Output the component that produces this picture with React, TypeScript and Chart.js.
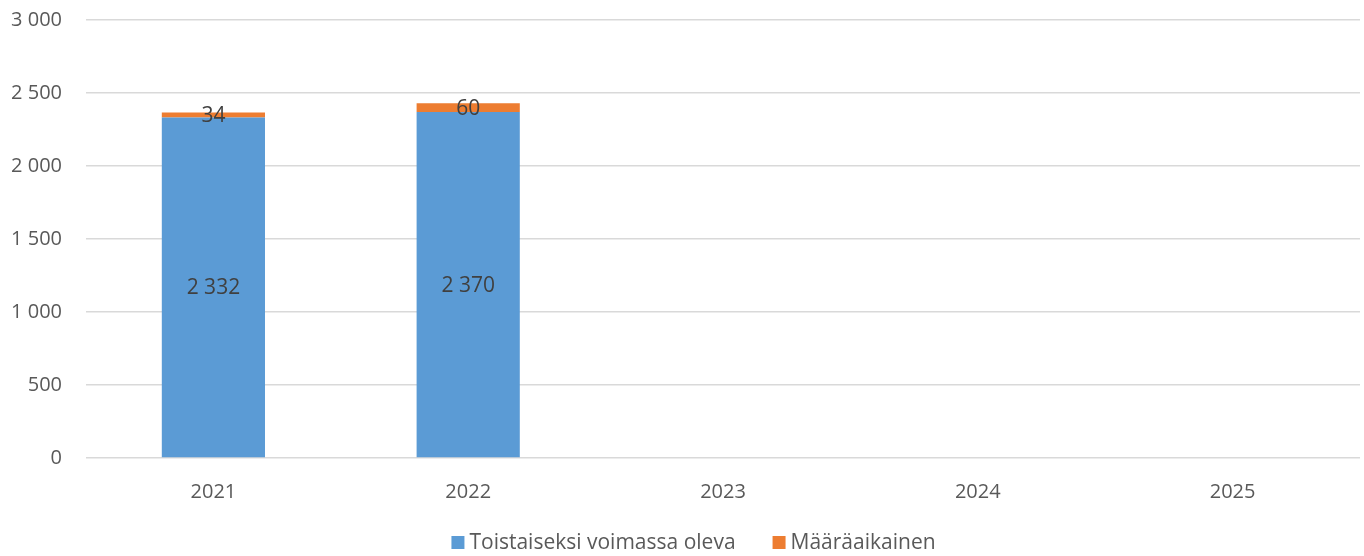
import React, { useEffect, useRef } from "react";
import { Chart, registerables } from "chart.js";

Chart.register(...registerables);

const categories = ["2021", "2022", "2023", "2024", "2025"];
const permanentValues = [2332, 2370, null, null, null];
const fixedTermValues = [34, 60, null, null, null];
const seriesNames = ["Toistaiseksi voimassa oleva", "Määräaikainen"];
const seriesColors = ["#5b9bd5", "#ed7d31"];
const yTicks = [0, 500, 1000, 1500, 2000, 2500, 3000];

const FONT = "'Open Sans', 'Liberation Sans', sans-serif";

const fmt = (v: number) => {
  const s = Math.round(v).toString();
  return s.replace(/\B(?=(\d{3})+(?!\d))/g, " ");
};

const labelPlugin = {
  id: "segLabels",
  afterDatasetsDraw(chart: any) {
    const ctx = chart.ctx;
    ctx.save();
    ctx.font = `21px ${FONT}`;
    ctx.fillStyle = "#404040";
    ctx.textAlign = "center";
    ctx.textBaseline = "middle";
    chart.data.datasets.forEach((ds: any, di: number) => {
      const meta = chart.getDatasetMeta(di);
      meta.data.forEach((el: any, i: number) => {
        const v = ds.data[i];
        if (v == null) return;
        const { x, y, base } = el.getProps(["x", "y", "base"], true);
        ctx.fillText(fmt(v), x, (y + base) / 2 + 1);
      });
    });
    ctx.restore();
  },
};

const legendPlugin = {
  id: "customLegend",
  afterDraw(chart: any) {
    const ctx = chart.ctx;
    ctx.save();
    ctx.font = `21px ${FONT}`;
    ctx.textBaseline = "middle";
    ctx.textAlign = "left";
    const box = 13;
    const gap = 5;
    const itemGap = 37;
    const items = chart.data.datasets.map((ds: any, i: number) => ({
      text: ds.label,
      color: seriesColors[i],
      w: ctx.measureText(ds.label).width,
    }));
    const total =
      items.reduce((s: number, it: any) => s + box + gap + it.w, 0) + itemGap * (items.length - 1);
    const cy = 542.5;
    let x = 693.5 - total / 2;
    items.forEach((it: any) => {
      ctx.fillStyle = it.color;
      ctx.fillRect(x, cy - box / 2, box, box);
      x += box + gap;
      ctx.fillStyle = "#595959";
      ctx.fillText(it.text, x, cy + 1);
      x += it.w + itemGap;
    });
    ctx.restore();
  },
};

export default function App() {
  const ref = useRef<HTMLCanvasElement>(null);
  useEffect(() => {
    document.body.style.margin = "0";
    const chart = new Chart(ref.current!, {
      type: "bar",
      data: {
        labels: categories,
        datasets: [
          {
            label: seriesNames[0],
            data: permanentValues,
            backgroundColor: seriesColors[0],
            barPercentage: 0.81,
            categoryPercentage: 0.5,
          },
          {
            label: seriesNames[1],
            data: fixedTermValues,
            backgroundColor: seriesColors[1],
            barPercentage: 0.81,
            categoryPercentage: 0.5,
          },
        ] as any,
      },
      options: {
        animation: false,
        responsive: false,
        maintainAspectRatio: false,
        layout: { padding: { top: 20, right: 4, left: 0, bottom: 52 } },
        plugins: {
          legend: { display: false },
          tooltip: { enabled: false },
        },
        scales: {
          x: {
            stacked: true,
            grid: { display: false, drawTicks: false },
            border: { display: false },
            ticks: { font: { family: FONT, size: 20 }, color: "#595959", padding: 22 },
            afterFit(scale: any) {
              scale.height = 46;
            },
          },
          y: {
            stacked: true,
            min: 0,
            max: 3000,
            afterBuildTicks(scale: any) {
              scale.ticks = yTicks.map((v) => ({ value: v }));
            },
            grid: { color: "#d9d9d9", lineWidth: 1.5, drawTicks: false },
            border: { display: false },
            ticks: {
              font: { family: FONT, size: 20 },
              color: "#595959",
              padding: 24,
              callback: (v: any) => fmt(Number(v)),
            },
            afterFit(scale: any) {
              scale.width = 86;
              scale.paddingTop = 0;
              scale.paddingBottom = 0;
            },
          },
        },
      } as any,
      plugins: [labelPlugin, legendPlugin],
    });
    return () => chart.destroy();
  }, []);
  return <canvas ref={ref} width={1364} height={556} style={{ display: "block" }} />;
}
